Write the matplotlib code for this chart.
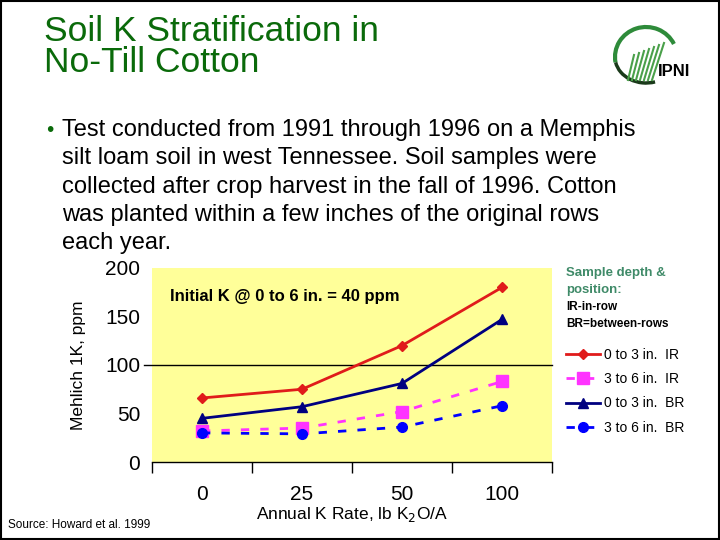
import numpy as np
import matplotlib
matplotlib.use("Agg")
import matplotlib.pyplot as plt
from matplotlib.patches import Rectangle, Arc

plt.rcParams['font.family'] = ['Liberation Sans', 'DejaVu Sans']

# datos
k_rates = ['0', '25', '50', '100']
ir_0_3 = [66, 75, 120, 180]
ir_3_6 = [32, 35, 52, 83]
br_0_3 = [45, 57, 81, 147]
br_3_6 = [30, 29, 36, 58]
series_labels = ['0 to 3 in.  IR', '3 to 6 in.  IR', '0 to 3 in.  BR', '3 to 6 in.  BR']
y_ticks = [0, 50, 100, 150, 200]

bullet_lines = [
    "Test conducted from 1991 through 1996 on a Memphis",
    "silt loam soil in west Tennessee. Soil samples were",
    "collected after crop harvest in the fall of 1996. Cotton",
    "was planted within a few inches of the original rows",
    "each year.",
]

W, H = 720, 540


def fx(px):
    return px / W


def fy(py):
    return 1 - py / H


fig = plt.figure(figsize=(7.2, 5.4), dpi=100)
fig.patch.set_facecolor('white')

# marco
fig.patches.append(Rectangle((0.001, 0.001), 0.998, 0.998, transform=fig.transFigure,
                             fill=False, edgecolor='black', linewidth=1.5))

# titulo
verde = '#0a6a0a'
fig.text(fx(44), fy(47), "Soil K Stratification in\nNo-Till Cotton", fontsize=25.5,
         color=verde, va='center', linespacing=0.92)

# logo simple
lax = fig.add_axes([fx(598), fy(85), fx(110), fy(20) - fy(85)])
lax.set_xlim(0, 110)
lax.set_ylim(0, 65)
lax.axis('off')
lax.add_patch(Arc((48, 28), 62, 60, theta1=25, theta2=190, color='#2e8b3a', linewidth=3))
lax.add_patch(Arc((48, 28), 62, 52, theta1=190, theta2=290, color='#1a3a1a', linewidth=2.5))
for i in range(7):
    xs = 30 + i * 4
    lax.plot([xs, xs + 6 + i], [5, 30 + i * 2], color='#4aa04a', linewidth=1.5)
lax.text(60, 6, "IPNI", fontsize=12, fontweight='bold', color='black', va='bottom')

# texto con vineta
fig.text(fx(46), fy(130), "\u2022", fontsize=15, color=verde, va='center')
for i, linea in enumerate(bullet_lines):
    fig.text(fx(62), fy(130 + i * 28.3), linea, fontsize=17, color='black', va='center')

# grafico
ax = fig.add_axes([fx(152), fy(462), fx(552) - fx(152), fy(268) - fy(462)])
ax.set_facecolor('#FFFF99')
x = np.arange(len(k_rates))

ax.plot(x, ir_0_3, color='#e01b1b', linewidth=2, marker='D', markersize=5,
        label=series_labels[0])
ax.plot(x, ir_3_6, color='#ff33ff', linewidth=2, linestyle=(0, (3, 4)), marker='s',
        markersize=8, label=series_labels[1])
ax.plot(x, br_0_3, color='#000080', linewidth=2, marker='^', markersize=7,
        label=series_labels[2])
ax.plot(x, br_3_6, color='#0000ff', linewidth=2, linestyle=(0, (3, 4)), marker='o',
        markersize=7, label=series_labels[3])

ax.axhline(100, color='black', linewidth=1, xmin=-0.02, xmax=1, clip_on=False, zorder=1)

ax.set_xlim(-0.5, 3.5)
ax.set_ylim(0, 200)
ax.set_yticks(y_ticks)
ax.tick_params(axis='y', length=0, pad=8.5, labelsize=15)
ax.set_xticks(x)
ax.set_xticklabels(k_rates)
ax.set_xticks(np.arange(-0.5, 4, 1), minor=True)
ax.tick_params(axis='x', which='major', length=0, pad=16.5, labelsize=15)
ax.tick_params(axis='x', which='minor', length=8, width=1, direction='out')
for lado in ['top', 'right', 'left']:
    ax.spines[lado].set_visible(False)
ax.spines['bottom'].set_linewidth(1)

ax.set_ylabel("Mehlich 1K, ppm", fontsize=12.5, labelpad=14)
fig.text(fx(352), fy(514), "Annual K Rate, lb K$_2$O/A", fontsize=12.5, ha='center', va='center')

ax.text((170 - 152) / 400, (462 - 297) / 194, "Initial K @ 0 to 6 in. = 40 ppm",
        transform=ax.transAxes, fontsize=12, fontweight='bold', va='center')

# leyenda
fig.text(fx(566), fy(273), "Sample depth &", fontsize=9.5, fontweight='bold',
         color='#3f8a68', va='center')
fig.text(fx(566), fy(290), "position:", fontsize=9.5, fontweight='bold',
         color='#3f8a68', va='center')
fig.text(fx(566), fy(307), "IR-in-row", fontsize=8.5, fontweight='bold', va='center')
fig.text(fx(566), fy(324), "BR=between-rows", fontsize=8.5, fontweight='bold', va='center')

ax.legend(loc='upper left', bbox_to_anchor=(fx(560), fy(342)), bbox_transform=fig.transFigure,
          frameon=False, fontsize=10, handlelength=2.5, handletextpad=0.3,
          labelspacing=0.75, borderaxespad=0)

fig.text(fx(8), fy(525), "Source: Howard et al. 1999", fontsize=8.5, va='center')

fig.savefig('out.png', dpi=100)
